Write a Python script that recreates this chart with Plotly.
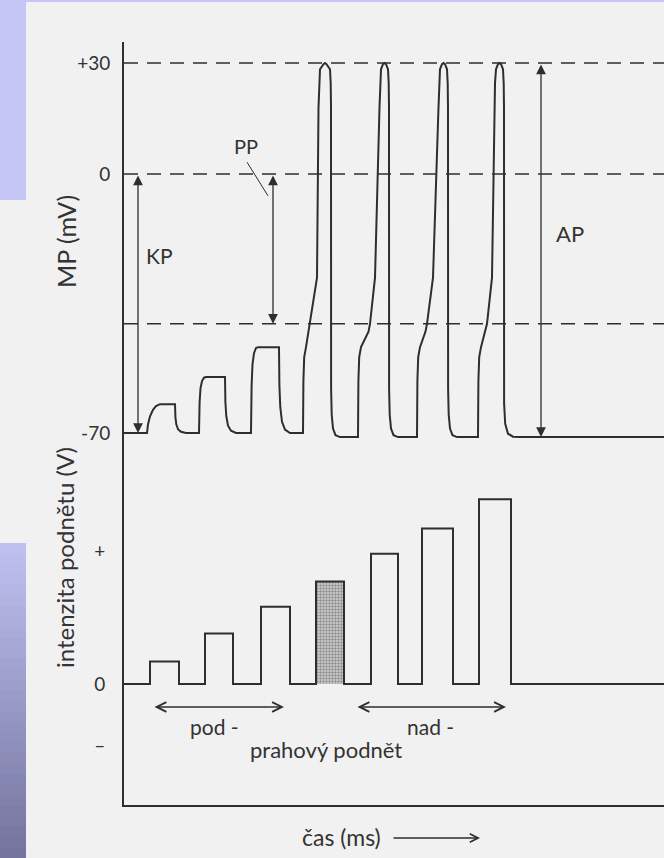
import plotly.graph_objects as go

# ------------------------------------------------------------------
# Data (time axis in arbitrary ms units)
# ------------------------------------------------------------------
rest_mv = -70.0
peak_mv = 30.0
threshold_mv = -40.5
undershoot_mv = -71.1
t_end = 540

# sub-threshold responses (local potentials)
hump_start = [23, 75, 127]
hump_end = [51, 101, 155]
hump_level = [-62.2, -54.9, -46.8]

# action potentials
ap_onset = [179, 234, 293, 354]
ap_thresh = [186, 246, 303, 363]
ap_up = [193, 251, 309, 368]
ap_peak_left = [195, 256, 315, 371]
ap_peak_right = [207, 265, 324, 380]

# stimulus pulses (intensity, V; "+" tick = 1)
bar_start = [26, 81, 137, 192, 247, 298, 355]
bar_end = [55, 109, 166, 220, 274, 329, 387]
bar_height = [0.17, 0.38, 0.58, 0.77, 0.98, 1.17, 1.39]
threshold_bar = 3

mp_ticks = [30, 0, -70]
mp_ticktext = ["+30", "0", "-70"]
st_ticks = [1, 0, -0.46]
st_ticktext = ["+", "0", "–"]

# shape profiles (dt, fraction of amplitude)
hump_rise = [
    [(0, 0), (1, 0.3), (3, 0.58), (6, 0.8), (9, 0.93), (13, 1.0)],
    [(0, 0), (0.6, 0.55), (1.5, 0.8), (3, 0.93), (5, 0.99), (7, 1.0)],
    [(0, 0), (0.6, 0.55), (1.5, 0.8), (3, 0.93), (5, 0.99), (7, 1.0)],
]
hump_fall = [(0, 1), (0.4, 0.55), (1.3, 0.3), (3, 0.13), (6, 0.04), (11, 0)]
ap_recovery = [(0.1, -58), (0.7, -65), (2, -68.8), (4.5, -70.6), (9, -71.1)]
ap_recovery_last = [(0.1, -62), (1.2, -67.5), (4, -70.2), (9, -71.0), (15, -71.1)]

# ------------------------------------------------------------------
# Build the membrane-potential trace
# ------------------------------------------------------------------
mt, mv = [0], [rest_mv]
for i in range(len(hump_start)):
    amp = hump_level[i] - rest_mv
    for dt, f in hump_rise[i]:
        mt.append(hump_start[i] + dt); mv.append(rest_mv + amp * f)
    for dt, f in hump_fall:
        mt.append(hump_end[i] + dt); mv.append(rest_mv + amp * f)

for k in range(len(ap_onset)):
    base = rest_mv if k == 0 else undershoot_mv
    on, thr, up = ap_onset[k], ap_thresh[k], ap_up[k]
    pl, pr = ap_peak_left[k], ap_peak_right[k]
    mid = (pl + pr) / 2
    pts = [(on, base), (on + 0.4, -56), (on + 1.2, -49.5), (on + 3, -46.8),
           (thr - 1.5, -42.6), (thr, threshold_mv), (up, -28),
           (pl - 0.5, 18), (pl, 24.5), (pl + 1, 28.3), (mid - 1.5, 29.7),
           (mid, peak_mv), (mid + 1.5, 29.7), (pr - 1, 28.3), (pr - 0.3, 24.5),
           (pr, 18)]
    rec = ap_recovery_last if k == len(ap_onset) - 1 else ap_recovery
    pts += [(pr + dt, v) for dt, v in rec]
    for a, b in pts:
        mt.append(a); mv.append(b)
mt.append(t_end); mv.append(undershoot_mv)

# stimulus step line
st_x, st_y = [0], [0]
for s, e, h in zip(bar_start, bar_end, bar_height):
    st_x += [s, e]; st_y += [h, 0]
st_x.append(t_end); st_y.append(0)

# ------------------------------------------------------------------
# Figure
# ------------------------------------------------------------------
W, H = 664, 858
ML, MR, MT, MB = 124, 0, 42, 53
PW, PH = W - ML - MR, H - MT - MB
SPLIT = 350 / PH
INK = "#2e2e2e"
TXT = "#333333"
FONT = "Lato"
BG = "#f1f1f1"


def pp(xp, yp):
    return (xp - ML) / PW, (H - MB - yp) / PH


fig = go.Figure()

fig.add_trace(go.Bar(
    x=[(bar_start[threshold_bar] + bar_end[threshold_bar]) / 2],
    y=[bar_height[threshold_bar]],
    width=[bar_end[threshold_bar] - bar_start[threshold_bar]],
    base=0, xaxis="x", yaxis="y2",
    marker=dict(color="#cdcdcd",
                pattern=dict(shape=".", fgcolor="#4a4a4a", bgcolor="#d2d2d2",
                             size=3, solidity=0.5),
                line=dict(width=0)),
    hoverinfo="skip", showlegend=False))

fig.add_trace(go.Scatter(x=st_x, y=st_y, mode="lines", line_shape="hv",
                         line=dict(color=INK, width=2), xaxis="x", yaxis="y2",
                         showlegend=False, hoverinfo="skip"))

fig.add_trace(go.Scatter(x=mt, y=mv, mode="lines",
                         line=dict(color=INK, width=2), xaxis="x", yaxis="y",
                         showlegend=False, hoverinfo="skip"))

shapes = []
# decorative lavender slide panels
shapes.append(dict(type="rect", xref="paper", yref="paper",
                   x0=pp(0, 0)[0], x1=pp(26, 0)[0], y0=pp(0, 200)[1], y1=pp(0, 0)[1],
                   fillcolor="#c6c6f6", line=dict(width=0), layer="below"))
shapes.append(dict(type="rect", xref="paper", yref="paper",
                   x0=pp(0, 0)[0], x1=pp(W, 0)[0], y0=pp(0, 2)[1], y1=pp(0, 0)[1],
                   fillcolor="#c6c6f6", line=dict(width=0), layer="below"))
n = 30
y_top, y_bot = 543, 858
c0, c1 = (192, 192, 240), (116, 116, 158)
for i in range(n):
    a = i / (n - 1)
    col = "rgb(%d,%d,%d)" % tuple(round(c0[j] + (c1[j] - c0[j]) * a) for j in range(3))
    ya = y_top + (y_bot - y_top) * i / n
    yb = y_top + (y_bot - y_top) * (i + 1) / n + 0.6
    shapes.append(dict(type="rect", xref="paper", yref="paper",
                       x0=pp(0, 0)[0], x1=pp(26, 0)[0], y0=pp(0, yb)[1], y1=pp(0, ya)[1],
                       fillcolor=col, line=dict(width=0), layer="below"))

# dashed reference levels
for lvl in [peak_mv, 0, threshold_mv]:
    shapes.append(dict(type="line", xref="x", yref="y", x0=0, x1=t_end, y0=lvl, y1=lvl,
                       line=dict(color=INK, width=1.5, dash="14px,9px")))
# PP leader line
shapes.append(dict(type="line", xref="x", yref="y", x0=123, y0=3.2, x1=144, y1=-5.9,
                   line=dict(color=INK, width=1)))

ann = []


def darrow(x, y0, y1, yref="y"):
    ann.append(dict(x=x, y=y1, ax=x, ay=y0, xref="x", yref=yref, axref="x", ayref=yref,
                    text="", showarrow=True, arrowside="end+start",
                    arrowhead=2, startarrowhead=2, arrowsize=1.5, startarrowsize=1.5,
                    arrowwidth=1.3, arrowcolor=INK, standoff=0, startstandoff=0))


darrow(14, 0, rest_mv)
darrow(149, 0, threshold_mv)
darrow(417, peak_mv, undershoot_mv)


def harrow(x0, x1, y):
    ann.append(dict(x=x1, y=y, ax=x0, ay=y, xref="x", yref="y2", axref="x", ayref="y2",
                    text="", showarrow=True, arrowside="end+start",
                    arrowhead=5, startarrowhead=5, arrowsize=1.2, startarrowsize=1.2,
                    arrowwidth=1.6, arrowcolor=INK, standoff=0, startstandoff=0))


harrow(29, 160, -0.173)
harrow(232, 382, -0.173)


def label(x, y, text, size=19, xref="x", yref="y", angle=0):
    ann.append(dict(x=x, y=y, xref=xref, yref=yref, text=text, showarrow=False,
                    textangle=angle, font=dict(family=FONT, size=size, color=TXT),
                    xanchor="center", yanchor="middle"))


label(35, -21.9, "KP", size=21)
label(122, 7.6, "PP", size=20)
label(446, -16.2, "AP", size=22)
label(90, -0.323, "pod -", size=21, yref="y2")
label(306, -0.323, "nad -", size=21, yref="y2")
label(202, -0.496, "prahový podnět", size=22, yref="y2")
label(217, pp(0, 837)[1], "čas (ms)", size=23, yref="paper")
ann.append(dict(x=356, y=pp(0, 838)[1], ax=268, ay=0, xref="x", yref="paper",
                axref="x", text="", showarrow=True, arrowhead=5, arrowsize=1.1,
                arrowwidth=1.5, arrowcolor=INK, standoff=0))
label(pp(66, 0)[0], pp(0, 242)[1], "MP (mV)", size=25, xref="paper", yref="paper", angle=-90)
label(pp(64, 0)[0], pp(0, 558)[1], "intenzita podnětu (V)", size=24,
      xref="paper", yref="paper", angle=-90)

axis_common = dict(showgrid=False, zeroline=False, showline=True, linecolor=INK, linewidth=2)

fig.update_layout(
    width=W, height=H,
    margin=dict(l=ML, r=MR, t=MT, b=MB, pad=0),
    paper_bgcolor=BG, plot_bgcolor=BG,
    font=dict(family=FONT, color=TXT),
    showlegend=False,
    xaxis=dict(range=[0, t_end], domain=[0, 1], anchor="y2", showticklabels=False,
               ticks="", **axis_common),
    yaxis=dict(range=[-75.95, 35.68], domain=[SPLIT, 1], anchor="x",
               tickvals=mp_ticks, ticktext=mp_ticktext, ticks="outside", ticklen=8,
               tickcolor="rgba(0,0,0,0)", tickfont=dict(size=19, family=FONT, color=TXT),
               **axis_common),
    yaxis2=dict(range=[-0.910, 1.722], domain=[0, SPLIT], anchor="x",
                tickvals=st_ticks, ticktext=st_ticktext, ticks="outside", ticklen=13,
                tickcolor="rgba(0,0,0,0)", tickfont=dict(size=19, family=FONT, color=TXT),
                **axis_common),
    shapes=shapes,
    annotations=ann,
    bargap=0,
)

fig.write_html("out.html",
               config={"displayModeBar": False},
               post_script="document.body.style.margin='0px';"
                           "document.body.style.background='%s';" % BG)
